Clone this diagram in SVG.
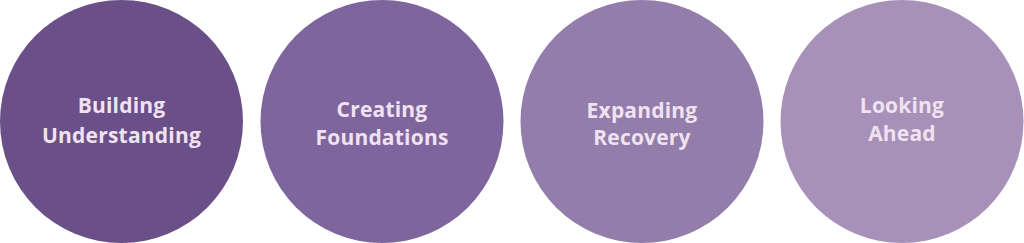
<svg xmlns="http://www.w3.org/2000/svg" width="1024" height="243" viewBox="0 0 1024 243">
<style>
text{font-family:"Open Sans","Noto Sans",sans-serif;font-weight:700;font-size:21px;letter-spacing:0.2px;fill:#f1e2f0;text-anchor:middle}
</style>
<rect width="1024" height="243" fill="#ffffff"/>
<g id="n1"><circle cx="121.5" cy="121.5" r="121.5" fill="#6b4f89"/><text x="121.5" y="113">Building</text><text x="121.5" y="143">Understanding</text></g>
<g id="n2"><circle cx="382" cy="121.5" r="121.5" fill="#7e659e"/><text x="382" y="117">Creating</text><text x="382" y="145">Foundations</text></g>
<g id="n3"><circle cx="642" cy="121.5" r="121.5" fill="#927dab"/><text x="642" y="118">Expanding</text><text x="642" y="145">Recovery</text></g>
<g id="n4"><circle cx="902" cy="121.5" r="121.5" fill="#a791b9"/><text x="902" y="113">Looking</text><text x="902" y="141">Ahead</text></g>
<g id="connectors"/>
</svg>
